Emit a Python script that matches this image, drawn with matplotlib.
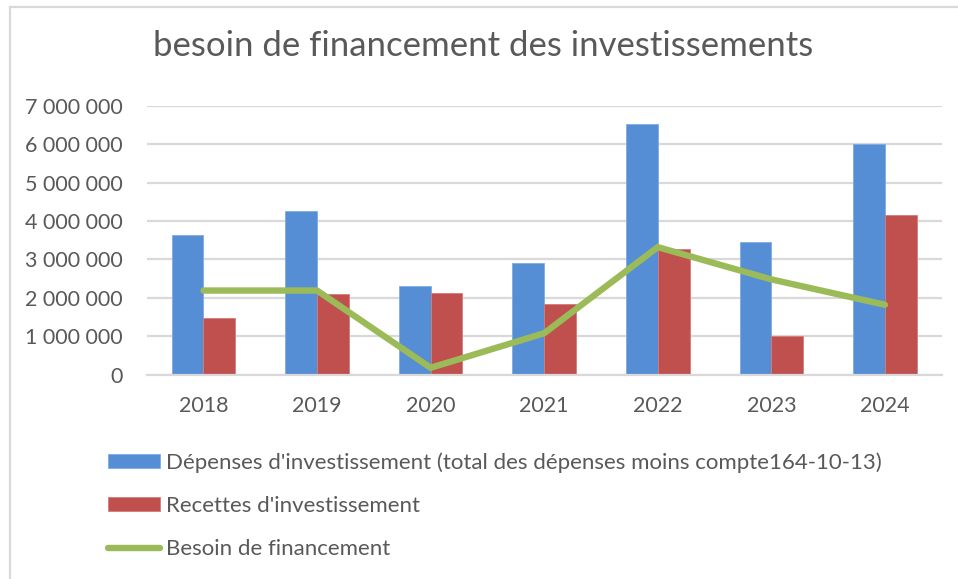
import matplotlib
matplotlib.use("Agg")
import matplotlib.pyplot as plt
from matplotlib.lines import Line2D
import numpy as np

years = ["2018", "2019", "2020", "2021", "2022", "2023", "2024"]
depenses = [3630000, 4260000, 2300000, 2900000, 6530000, 3460000, 6000000]
recettes = [1470000, 2100000, 2130000, 1830000, 3260000, 1000000, 4160000]
besoin = [2190000, 2190000, 180000, 1080000, 3320000, 2480000, 1820000]
yticks = [0, 1000000, 2000000, 3000000, 4000000, 5000000, 6000000, 7000000]

labels = [
    "Dépenses d'investissement (total des dépenses moins compte164-10-13)",
    "Recettes d'investissement",
    "Besoin de financement",
]

BLUE = "#558ED5"
RED = "#C0504D"
GREEN = "#9BBB59"
TEXT = "#595959"
GRID = "#D9D9D9"

plt.rcParams["font.family"] = ["Lato", "DejaVu Sans"]

W, H = 958, 579
fig = plt.figure(figsize=(W / 100, H / 100), dpi=100)

def px(x0, y0, x1, y1):
    return [x0 / W, 1 - y1 / H, (x1 - x0) / W, (y1 - y0) / H]

ax = fig.add_axes(px(146.7, 105.7, 941.7, 374.7))
x = np.arange(len(years))
bw = 0.28
ax.bar(x - bw / 2, depenses, bw, color=BLUE, edgecolor="#7FAAE0", linewidth=0.6, zorder=2)
ax.bar(x + bw / 2, recettes, bw, color=RED, edgecolor="#D47C79", linewidth=0.6, zorder=2)
ax.plot(x, besoin, color=GREEN, linewidth=4.6, solid_capstyle="round",
        solid_joinstyle="miter", zorder=3)

ax.set_xlim(-0.5, len(years) - 0.5)
ax.set_ylim(0, 7000000)
ax.set_yticks(yticks)
ax.set_yticklabels([f"{v:,}".replace(",", " ") for v in yticks])
ax.set_xticks(x)
ax.set_xticklabels(years)
ax.tick_params(axis="both", length=0, labelsize=15.5, labelcolor=TEXT)
ax.tick_params(axis="y", pad=17)
ax.tick_params(axis="x", pad=15)
ax.grid(axis="y", color=GRID, linewidth=1.6, zorder=0)
ax.set_axisbelow(True)
for s in ["top", "right", "left"]:
    ax.spines[s].set_visible(False)
ax.spines["bottom"].set_color(GRID)
ax.spines["bottom"].set_linewidth(1.6)

fig.text(483 / W, 1 - 46 / H, "besoin de financement des investissements",
         ha="center", va="center", fontsize=25, color=TEXT)

# legend rows
handles = [
    plt.Rectangle((0, 0), 1, 1, facecolor=BLUE, edgecolor="#7FAAE0", linewidth=0.6),
    plt.Rectangle((0, 0), 1, 1, facecolor=RED, edgecolor="#D47C79", linewidth=0.6),
    Line2D([0], [0], color=GREEN, linewidth=4.6, solid_capstyle="round"),
]
leg = fig.legend(handles, labels, loc="upper left",
                 bbox_to_anchor=(108 / W, 1 - 452 / H), frameon=False,
                 fontsize=16, labelcolor=TEXT, handlelength=2.35,
                 handleheight=0.6, handletextpad=0.28, labelspacing=1.05,
                 borderpad=0, borderaxespad=0)

# chart frame edges
fig.add_artist(Line2D([10 / W, 1], [1 - 7 / H, 1 - 7 / H], color=GRID, linewidth=1.6))
fig.add_artist(Line2D([10 / W, 10 / W], [0, 1 - 7 / H], color=GRID, linewidth=1.6))

fig.savefig("out.png", dpi=100, facecolor="white")
